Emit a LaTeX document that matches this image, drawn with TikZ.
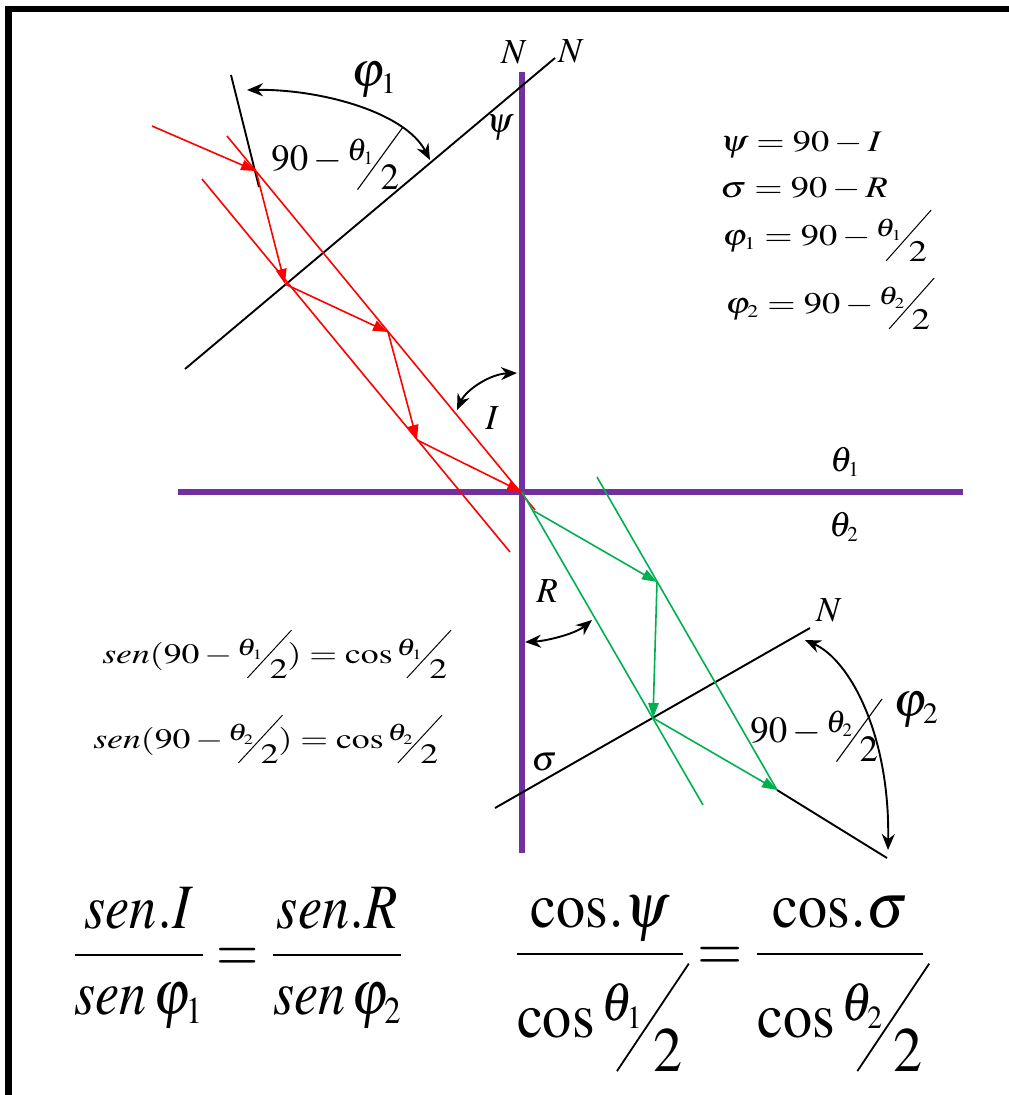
\documentclass[tikz,border=0pt]{standalone}
\usepackage{mathptmx}
\usepackage{graphicx}
\usetikzlibrary{arrows.meta}
\definecolor{axispurple}{HTML}{7030A0}
\definecolor{rayred}{HTML}{FF0000}
\definecolor{raygreen}{HTML}{00B050}
\newcommand{\idx}[1]{_{\scriptscriptstyle #1}}
\newcommand{\slfrac}[2]{\mbox{\raisebox{.27em}{\scalebox{.85}{$#1$}}\kern-.45em\raisebox{-.54em}{\rotatebox{54}{\rule{2.1em}{.03em}}}\kern-.62em\raisebox{-.54em}{$#2$}}}
\newcommand{\xwide}[2][1.22]{\scalebox{#1}[1]{#2}}
\tikzset{
  borderline/.style={draw=black,line width=1.2mm,line join=miter},
  purpleaxis/.style={draw=axispurple,line width=1.15mm},
  mirrorline/.style={draw=black,line width=0.38mm},
  rededge/.style={draw=rayred,line width=0.32mm},
  greenedge/.style={draw=raygreen,line width=0.32mm},
  redray/.style={rededge,-{Triangle[length=3mm,width=2.1mm]}},
  greenray/.style={greenedge,-{Triangle[length=3mm,width=2.1mm]}},
  anglearc/.style={draw=black,line width=0.38mm,{Stealth[length=3.2mm,width=2.6mm]}-{Stealth[length=3.2mm,width=2.6mm]}},
  lbl/.style={inner sep=0pt,font=\fontsize{20}{24}\selectfont},
  biglbl/.style={inner sep=0pt,font=\fontsize{28}{32}\selectfont},
  anglelbl/.style={inner sep=0pt,anchor=base west,font=\fontsize{21}{25}\selectfont},
  eqright/.style={inner sep=0pt,anchor=base west,font=\fontsize{17}{20}\selectfont},
  eqleft/.style={inner sep=0pt,anchor=base west,font=\fontsize{16}{19}\selectfont},
  eqbottom/.style={inner sep=0pt,anchor=base,font=\fontsize{36}{42}\selectfont}
}

\begin{document}
\begin{tikzpicture}[x=0.2mm,y=-0.2mm]
  \useasboundingbox (0,0) rectangle (1009,1095);
  \draw[borderline] (8.5,1095) -- (8.5,9) -- (1009,9);

  \coordinate (vt) at (522,72);
  \coordinate (vb) at (522,853);
  \coordinate (hl) at (178,492);
  \coordinate (hr) at (963,492);
  \coordinate (o) at (522,492);
  \draw[purpleaxis] (vt) -- (vb);
  \draw[purpleaxis] (hl) -- (hr);

  % upper mirror
  \coordinate (ma) at (185,369);
  \coordinate (mb) at (555,58);
  \coordinate (na) at (231,75);
  \coordinate (nb) at (259,187);
  \draw[mirrorline] (ma) -- (mb);
  \draw[mirrorline] (na) -- (nb);

  \coordinate (ea) at (227,136);
  \coordinate (eb) at (535,510);
  \coordinate (ec) at (202,179);
  \coordinate (ed) at (510,552);
  \draw[rededge] (ea) -- (eb);
  \draw[rededge] (ec) -- (ed);

  \coordinate (r0) at (152,126);
  \coordinate (r1) at (256,171);
  \coordinate (r2) at (285,284);
  \coordinate (r3) at (388,332);
  \coordinate (r4) at (417,440);
  \draw[redray] (r0) -- (r1);
  \draw[redray] (r1) -- (r2);
  \draw[redray] (r2) -- (r3);
  \draw[redray] (r3) -- (r4);
  \draw[redray] (r4) -- (o);

  % lower mirror
  \coordinate (sa) at (495,808);
  \coordinate (sb) at (810,628);
  \coordinate (ta) at (777,790);
  \coordinate (tb) at (887,858);
  \draw[mirrorline] (sa) -- (sb);
  \draw[mirrorline] (ta) -- (tb);

  \coordinate (ga) at (597,477);
  \coordinate (gb) at (703,805);
  \draw[greenedge] (o) -- (gb);
  \draw[greenedge] (ga) -- (ta);

  \coordinate (g0) at (534,511);
  \coordinate (g1) at (657,582);
  \coordinate (g2) at (653,718);
  \draw[greenray] (g0) -- (g1);
  \draw[greenray] (g1) -- (g2);
  \draw[greenray] (g2) -- (ta);

  % angle arrows
  \coordinate (pa) at (247,90);
  \coordinate (pb) at (430,160);
  \draw[anglearc] (pa) .. controls (320,89) and (405,112) .. (pb);
  \coordinate (ia) at (457,410);
  \coordinate (ib) at (517,373);
  \draw[anglearc] (ia) .. controls (466,390) and (490,374) .. (ib);
  \coordinate (qa) at (525,642);
  \coordinate (qb) at (592,620);
  \draw[anglearc] (qa) .. controls (546,641) and (575,634) .. (qb);
  \coordinate (ka) at (805,640);
  \coordinate (kb) at (888,850);
  \draw[anglearc] (ka) .. controls (850,660) and (890,735) .. (kb);

  % labels
  \node[lbl] (nvert) at (514,52) {$N$};
  \node[lbl] (nmirror) at (571,51) {$N$};
  \node[lbl] (psi) at (500,128) {$\psi$};
  \node[biglbl] (phione) at (374,80) {$\varphi\idx{1}$};
  \node[anglelbl] (halfone) at (271,170) {$90-\slfrac{\theta\idx{1}}{2}$};
  \node[lbl] (ilbl) at (492,418) {$I$};
  \node[lbl] (thone) at (845,462) {$\theta\idx{1}$};
  \node[lbl] (thtwo) at (844,527) {$\theta\idx{2}$};
  \node[lbl] (rlbl) at (547,591) {$R$};
  \node[lbl] (sig) at (544,762) {$\sigma$};
  \node[lbl] (nlow) at (829,610) {$N$};
  \node[biglbl] (phitwo) at (916,710) {$\varphi\idx{2}$};
  \node[anglelbl] (halftwo) at (750,742) {$90-\slfrac{\theta\idx{2}}{2}$};

  \node[eqright] (eqpsi) at (720,151) {\xwide{$\psi=90-I$}};
  \node[eqright] (eqsig) at (720,197) {\xwide{$\sigma=90-R$}};
  \node[eqright] (eqphione) at (722,245) {\xwide{$\varphi\idx{1}=90-\slfrac{\theta\idx{1}}{2}$}};
  \node[eqright] (eqphitwo) at (725,313) {\xwide{$\varphi\idx{2}=90-\slfrac{\theta\idx{2}}{2}$}};

  \node[eqleft] (senone) at (102,663) {\xwide[1.27]{$sen(90-\slfrac{\theta\idx{1}}{2})=\cos\slfrac{\theta\idx{1}}{2}$}};
  \node[eqleft] (sentwo) at (93,748) {\xwide[1.27]{$sen(90-\slfrac{\theta\idx{2}}{2})=\cos\slfrac{\theta\idx{2}}{2}$}};

  \node[eqbottom] (snell) at (238,971) {\xwide[0.86]{$\displaystyle\frac{sen.I}{sen\,\varphi\idx{1}}=\frac{sen.R}{sen\,\varphi\idx{2}}$}};
  \node[eqbottom] (cosrel) at (720,970) {\xwide[0.92]{$\displaystyle\frac{\mathrm{cos}.\psi}{\cos\slfrac{\theta\idx{1}}{2}}=\frac{\mathrm{cos}.\sigma}{\cos\slfrac{\theta\idx{2}}{2}}$}};
\end{tikzpicture}
\end{document}
